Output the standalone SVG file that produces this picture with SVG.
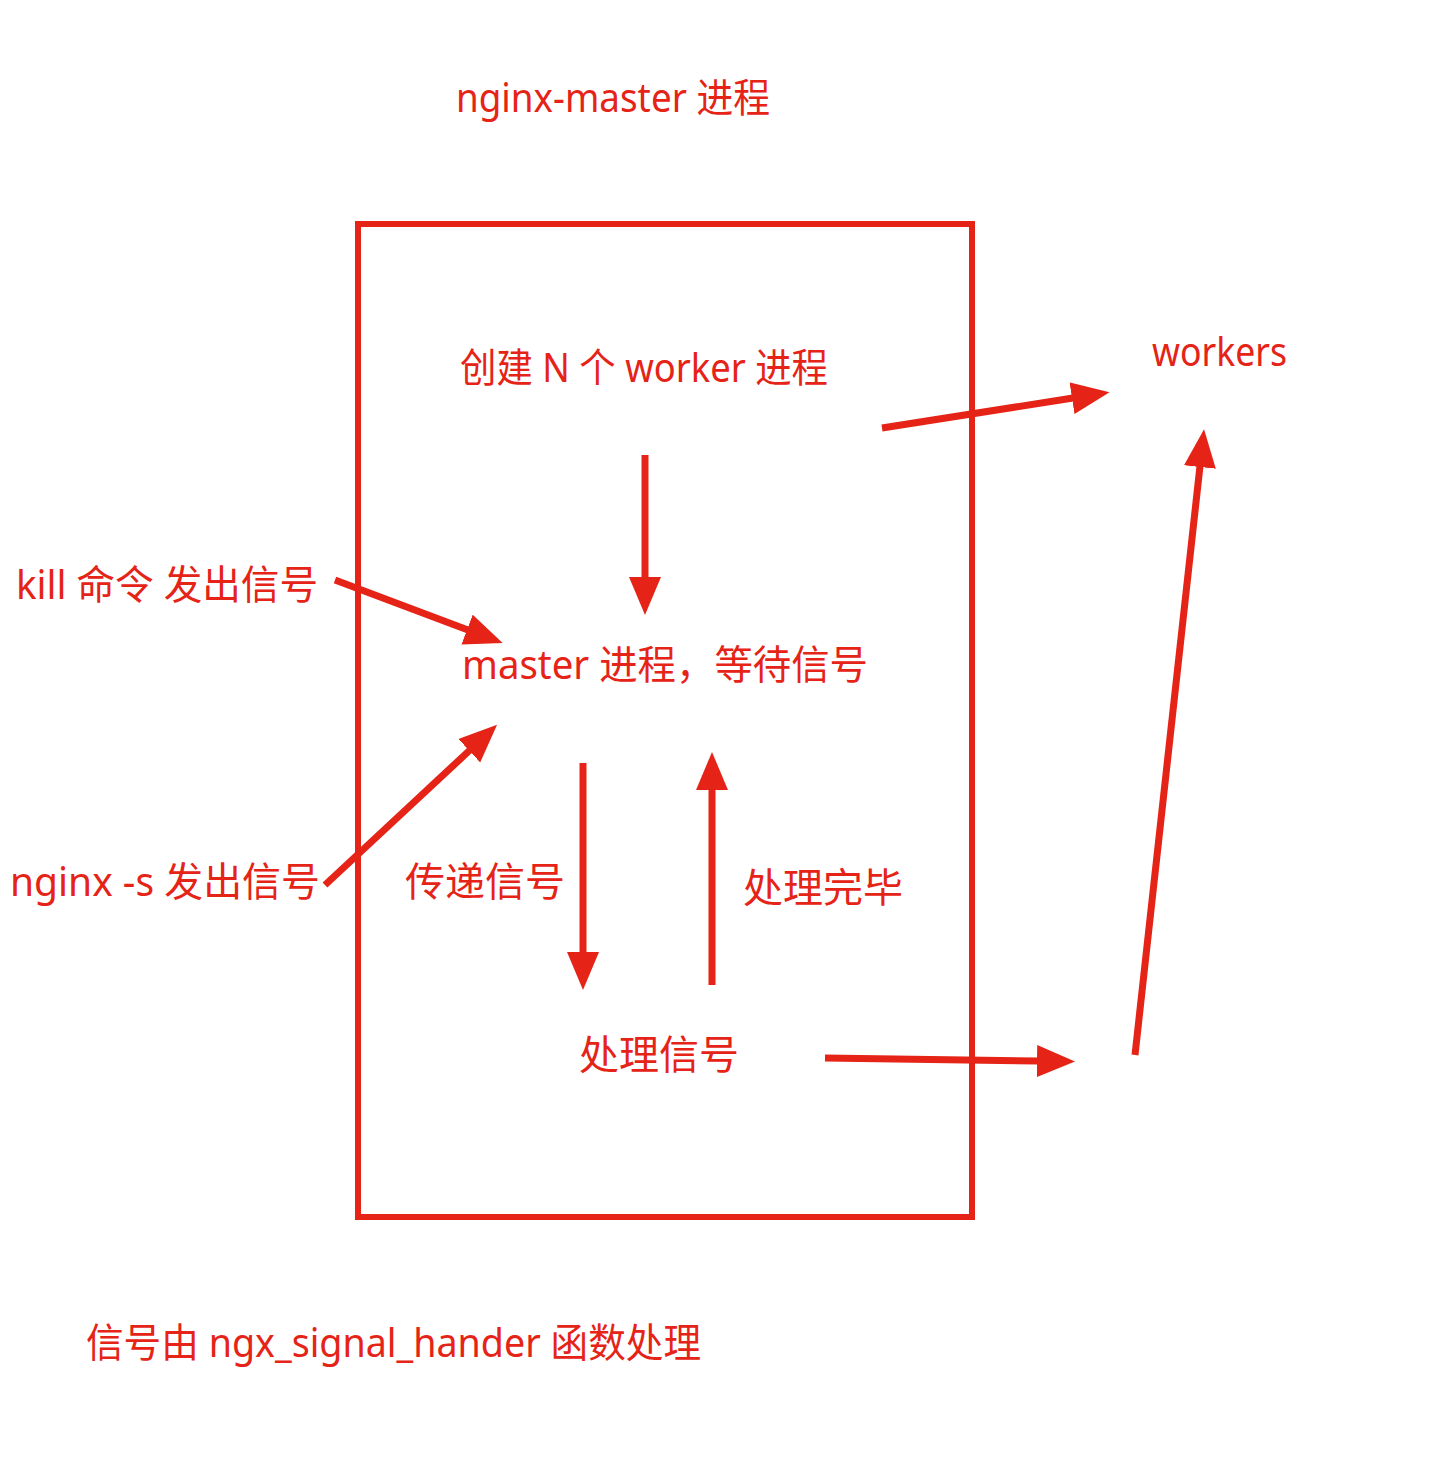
<svg xmlns="http://www.w3.org/2000/svg" width="1436" height="1476" viewBox="0 0 1436 1476">
<defs>
<style>
.t{font-family:"Noto Sans","Noto Sans CJK SC",sans-serif;font-size:40px;fill:#E52316}
.c{stroke:#E52316;stroke-width:7;fill:none}
</style>
<marker id="ah" markerUnits="userSpaceOnUse" markerWidth="40" markerHeight="34" refX="1" refY="16" orient="auto" viewBox="0 0 40 34">
<path d="M0,0 L38,16 L0,32 z" fill="#E52316"/>
</marker>
</defs>
<rect width="1436" height="1476" fill="#ffffff"/>
<g id="title"><text class="t" x="456" y="112" textLength="314" lengthAdjust="spacingAndGlyphs">nginx-master 进程</text></g>
<g id="master-box"><rect x="358" y="224" width="614" height="993" fill="none" stroke="#E52316" stroke-width="6"/></g>
<g id="create-workers"><text class="t" x="460" y="382" textLength="368" lengthAdjust="spacingAndGlyphs">创建 N 个 worker 进程</text></g>
<g id="workers"><text class="t" x="1152" y="366" textLength="135" lengthAdjust="spacingAndGlyphs">workers</text></g>
<g id="kill"><text class="t" x="16" y="599" textLength="302" lengthAdjust="spacingAndGlyphs">kill 命令 发出信号</text></g>
<g id="master-wait"><text class="t" x="462" y="679" textLength="406" lengthAdjust="spacingAndGlyphs">master 进程，等待信号</text></g>
<g id="nginx-s"><text class="t" x="10" y="896" textLength="310" lengthAdjust="spacingAndGlyphs">nginx -s 发出信号</text></g>
<g id="pass-signal"><text class="t" x="405" y="896" textLength="160" lengthAdjust="spacingAndGlyphs">传递信号</text></g>
<g id="done"><text class="t" x="743" y="902" textLength="160" lengthAdjust="spacingAndGlyphs">处理完毕</text></g>
<g id="handle-signal"><text class="t" x="579" y="1069" textLength="160" lengthAdjust="spacingAndGlyphs">处理信号</text></g>
<g id="footer"><text class="t" x="86" y="1357" textLength="615" lengthAdjust="spacingAndGlyphs">信号由 ngx_signal_hander 函数处理</text></g>
<g id="connectors">
<path class="c" d="M882,428 L1073,398" marker-end="url(#ah)"/>
<path class="c" d="M1135,1055 L1200,466" marker-end="url(#ah)"/>
<path class="c" d="M645,455 L645,578" marker-end="url(#ah)"/>
<path class="c" d="M335,580 L468,630" marker-end="url(#ah)"/>
<path class="c" d="M325,885 L470,750" marker-end="url(#ah)"/>
<path class="c" d="M583,763 L583,953" marker-end="url(#ah)"/>
<path class="c" d="M712,985 L712,789" marker-end="url(#ah)"/>
<path class="c" d="M825,1058 L1038,1061" marker-end="url(#ah)"/>
</g>
</svg>
